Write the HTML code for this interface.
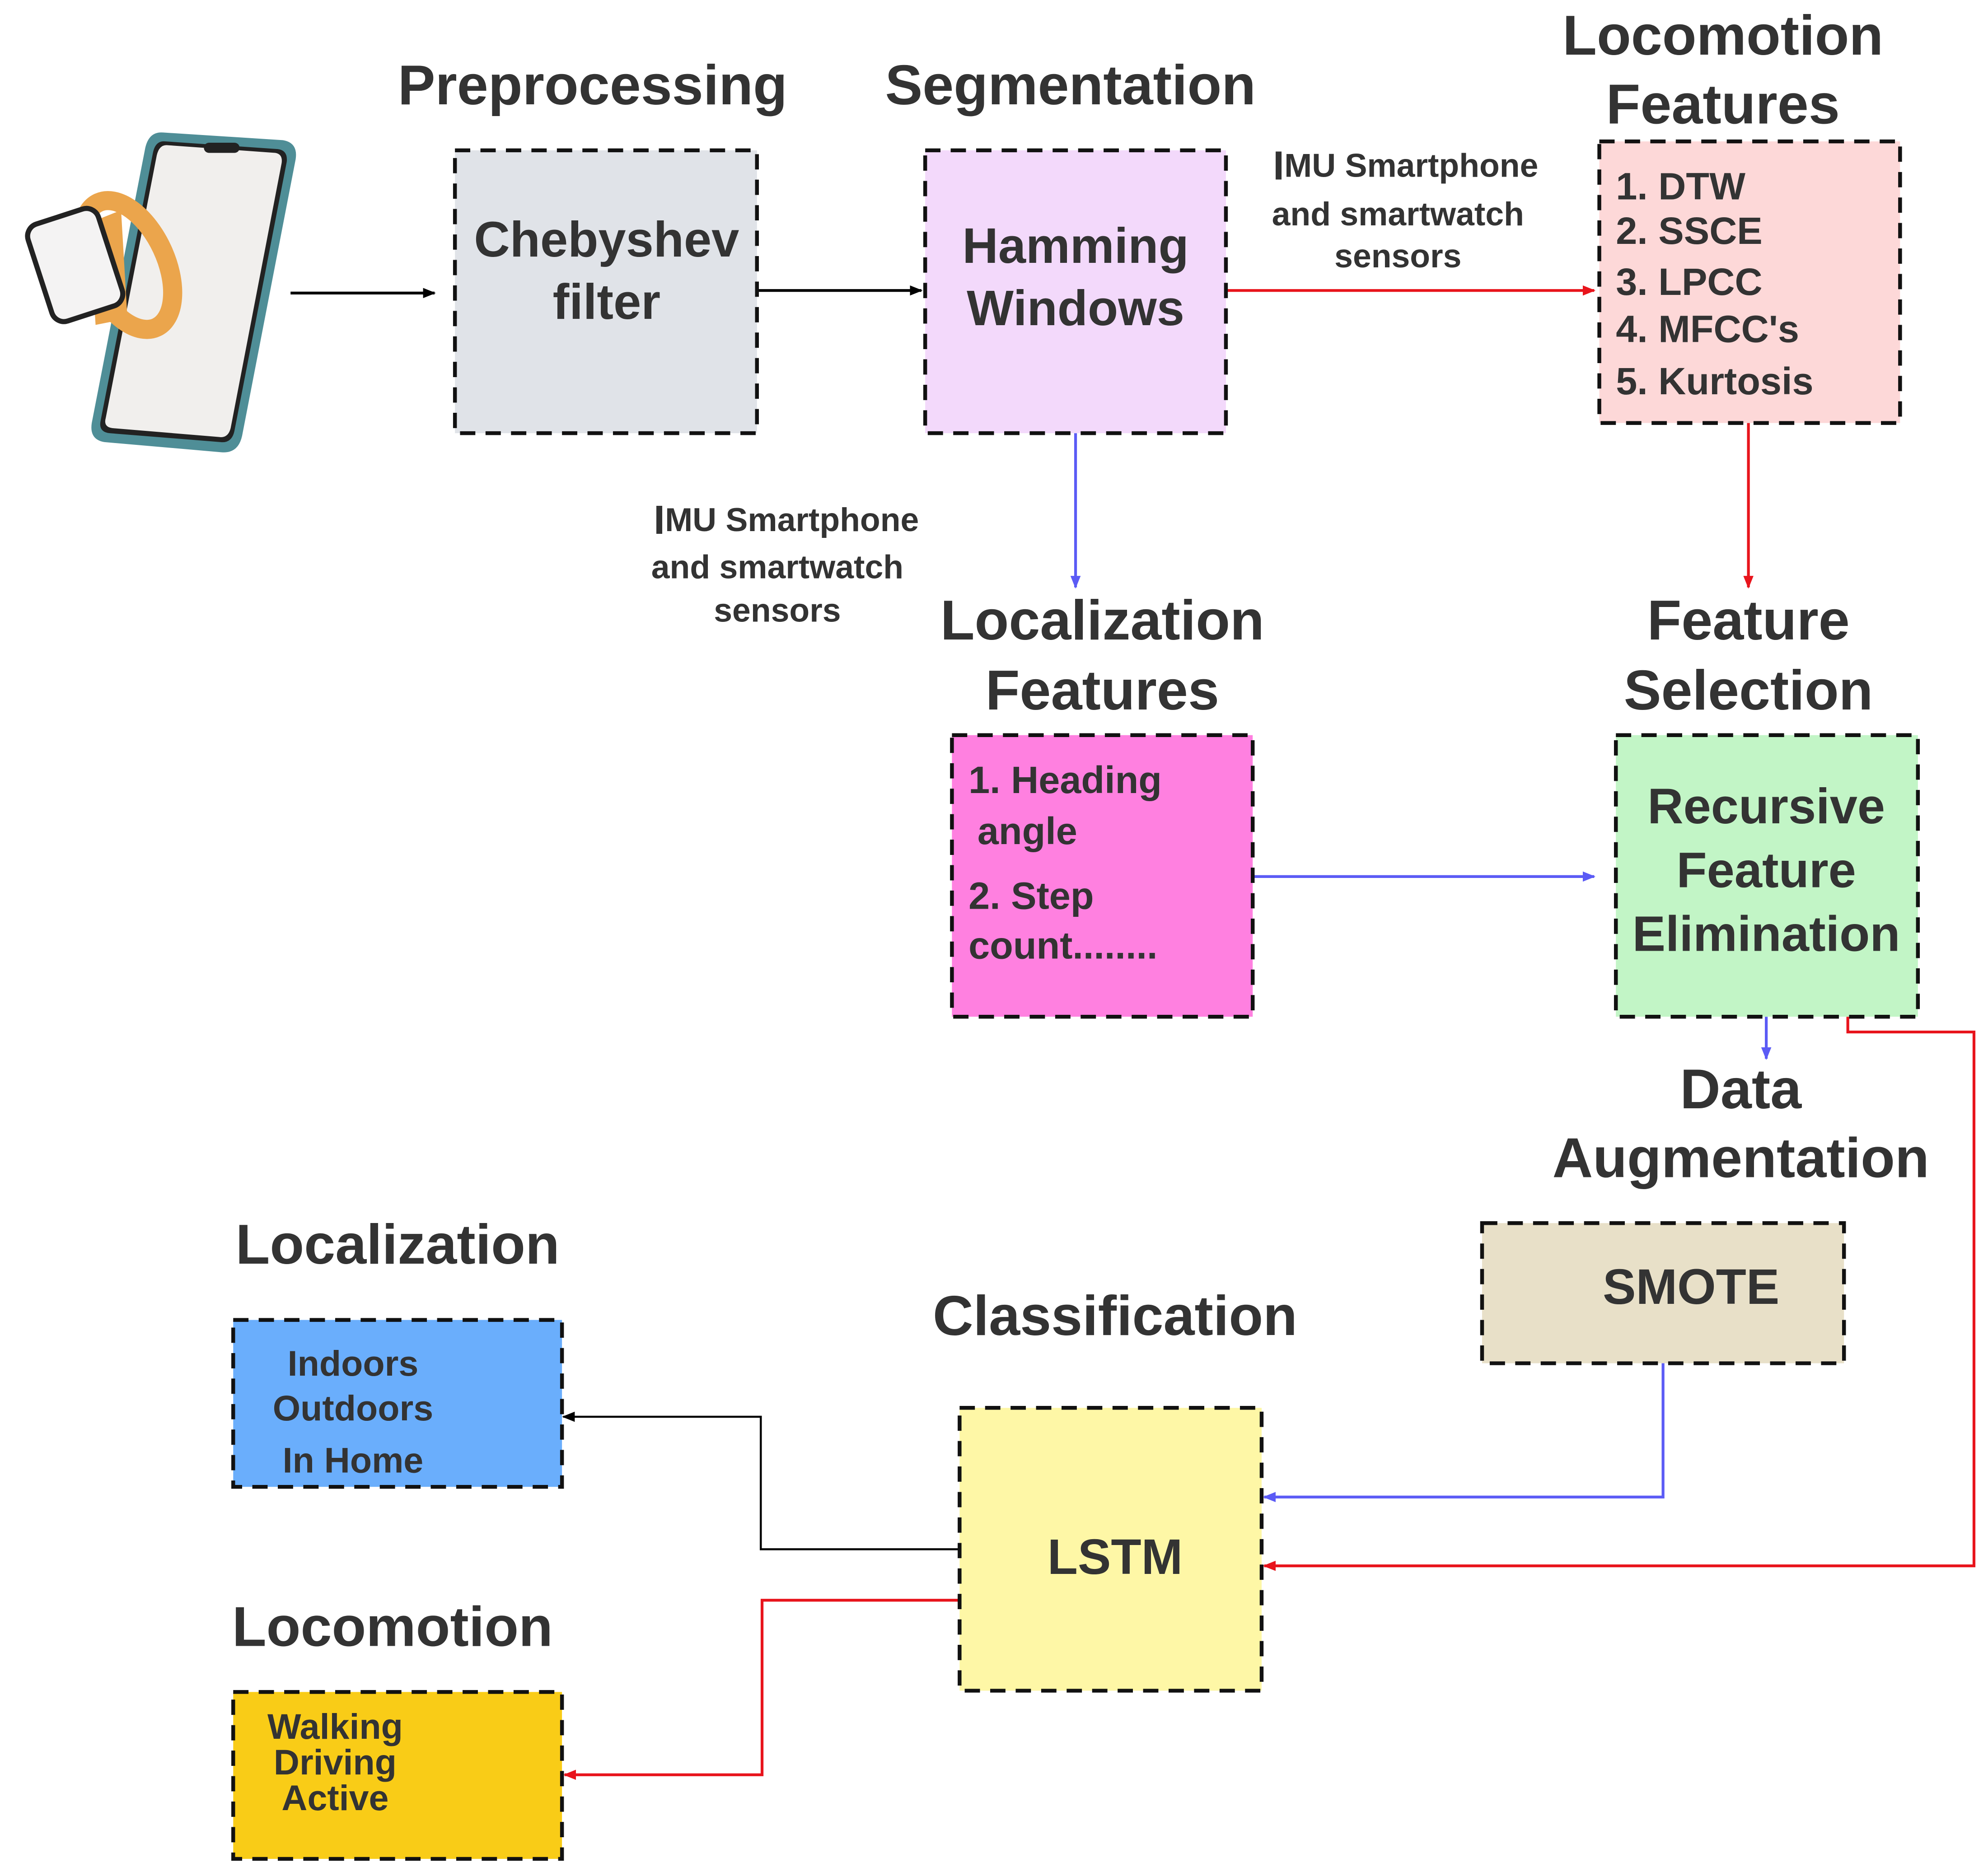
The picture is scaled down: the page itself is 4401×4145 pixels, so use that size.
<!DOCTYPE html>
<html><head><meta charset="utf-8"><style>html,body{margin:0;padding:0;background:#fff}svg{display:block}</style></head><body>
<svg width="4401" height="4145" viewBox="0 0 1560 1469.3" preserveAspectRatio="none" xmlns="http://www.w3.org/2000/svg" font-family="Liberation Sans, sans-serif" font-weight="bold" fill="#333">
<defs>
<marker id="ak" markerWidth="10" markerHeight="8" refX="9" refY="4" orient="auto" markerUnits="userSpaceOnUse"><path d="M0,0 L10,4 L0,8z" fill="#000"/></marker>
<marker id="ar" markerWidth="10" markerHeight="8" refX="9" refY="4" orient="auto" markerUnits="userSpaceOnUse"><path d="M0,0 L10,4 L0,8z" fill="#e8141c"/></marker>
<marker id="ab" markerWidth="10" markerHeight="8" refX="9" refY="4" orient="auto" markerUnits="userSpaceOnUse"><path d="M0,0 L10,4 L0,8z" fill="#5b5bf5"/></marker>
</defs>
<rect width="1560" height="1470" fill="#fff"/>
<!-- phone -->
<path d="M128,104 L222,110 Q234,112 232,125 L190,342 Q187,356 174,355 L82,347 Q70,345 72,332 L114,116 Q117,103 128,104z" fill="#4f8e97"/>
<path d="M130,111 L218,117 Q226,118 225,127 L184,338 Q182,348 173,347 L86,340 Q77,339 79,330 L120,120 Q122,110 130,111z" fill="#222"/>
<path d="M132,114 L216,120 Q222,121 221,128 L181,336 Q179,344 172,343 L88,336 Q81,335 83,328 L123,122 Q125,113 132,114z" fill="#f1efed"/>
<rect x="160" y="112" width="28" height="8" rx="4" fill="#222"/>
<!-- watch -->
<ellipse cx="100" cy="208" rx="30" ry="54" transform="rotate(-25 100 208)" fill="none" stroke="#eba54c" stroke-width="15"/>
<path d="M70,175 L95,165 L100,250 L75,255z" fill="#eba54c"/>
<rect x="30" y="168" width="58" height="80" rx="10" transform="rotate(-18 59 208)" fill="#f4f3f3" stroke="#222" stroke-width="4"/>
<!-- connectors -->
<g fill="none" stroke-width="2.2">
<path d="M228,230 H341" stroke="#000" marker-end="url(#ak)"/>
<path d="M594,228 H723" stroke="#000" marker-end="url(#ak)"/>
<path d="M962,228 H1251" stroke="#e8141c" marker-end="url(#ar)"/>
<path d="M1372,332 V461" stroke="#e8141c" marker-end="url(#ar)"/>
<path d="M844,340 V461" stroke="#5b5bf5" marker-end="url(#ab)"/>
<path d="M983,688 H1251" stroke="#5b5bf5" marker-end="url(#ab)"/>
<path d="M1386,798 V831" stroke="#5b5bf5" marker-end="url(#ab)"/>
<path d="M1450,798 V810 H1549 V1229 H992" stroke="#e8141c" marker-end="url(#ar)"/>
<path d="M1305,1070 V1175 H992" stroke="#5b5bf5" marker-end="url(#ab)"/>
<path d="M753,1216 H597 V1112 H442" stroke="#000" stroke-width="1.6" marker-end="url(#ak)"/>
<path d="M753,1256 H598 V1393 H443" stroke="#e8141c" marker-end="url(#ar)"/>
</g>
<!-- boxes -->
<g stroke="#111" stroke-width="3" stroke-dasharray="12,8">
<rect x="357" y="118" width="237" height="222" fill="#e0e3e8"/>
<rect x="726" y="118" width="236" height="222" fill="#f3d9fb"/>
<rect x="1255" y="111" width="236" height="221" fill="#fdd8d8"/>
<rect x="747" y="577" width="236" height="221" fill="#ff80e0"/>
<rect x="1268" y="577" width="237" height="221" fill="#c2f5c6"/>
<rect x="1163" y="960" width="284" height="110" fill="#e8e0c8"/>
<rect x="753" y="1105" width="237" height="222" fill="#fef7a6"/>
<rect x="183" y="1036" width="258" height="131" fill="#6aaefc"/>
<rect x="183" y="1328" width="258" height="131" fill="#f9cc17"/>
</g>
<!-- titles -->
<g font-size="44" text-anchor="middle" dominant-baseline="central">
<text x="465" y="67">Preprocessing</text>
<text x="840" y="67">Segmentation</text>
<text x="1352" y="28">Locomotion</text>
<text x="1352" y="82">Features</text>
<text x="865" y="487">Localization</text>
<text x="865" y="542">Features</text>
<text x="1372" y="487">Feature</text>
<text x="1372" y="542">Selection</text>
<text x="1366" y="855">Data</text>
<text x="1366" y="909">Augmentation</text>
<text x="875" y="1033">Classification</text>
<text x="312" y="977">Localization</text>
<text x="308" y="1277">Locomotion</text>
</g>
<g font-size="39" text-anchor="middle" dominant-baseline="central">
<text x="476" y="188">Chebyshev</text>
<text x="476" y="237">filter</text>
<text x="844" y="193">Hamming</text>
<text x="844" y="242">Windows</text>
<text x="1386" y="633">Recursive</text>
<text x="1386" y="683">Feature</text>
<text x="1386" y="733">Elimination</text>
<text x="1327" y="1010">SMOTE</text>
<text x="875" y="1222">LSTM</text>
</g>
<g font-size="26" text-anchor="middle" dominant-baseline="central">
<text x="1103" y="130"><tspan font-size="32">I</tspan>MU Smartphone</text>
<text x="1097" y="168">and smartwatch</text>
<text x="1097" y="201">sensors</text>
<text x="617" y="408"><tspan font-size="32">I</tspan>MU Smartphone</text>
<text x="610" y="445">and smartwatch</text>
<text x="610" y="479">sensors</text>
</g>
<g font-size="30" dominant-baseline="central">
<text x="1268" y="146">1. DTW</text>
<text x="1268" y="181">2. SSCE</text>
<text x="1268" y="221">3. LPCC</text>
<text x="1268" y="258">4. MFCC's</text>
<text x="1268" y="299">5. Kurtosis</text>
<text x="760" y="612">1. Heading</text>
<text x="767" y="652">angle</text>
<text x="760" y="703">2. Step</text>
<text x="760" y="742">count........</text>
</g>
<g font-size="28" text-anchor="middle" dominant-baseline="central">
<text x="277" y="1070">Indoors</text>
<text x="277" y="1105">Outdoors</text>
<text x="277" y="1146">In Home</text>
<text x="263" y="1355">Walking</text>
<text x="263" y="1383">Driving</text>
<text x="263" y="1411">Active</text>
</g>
</svg>
</body></html>
